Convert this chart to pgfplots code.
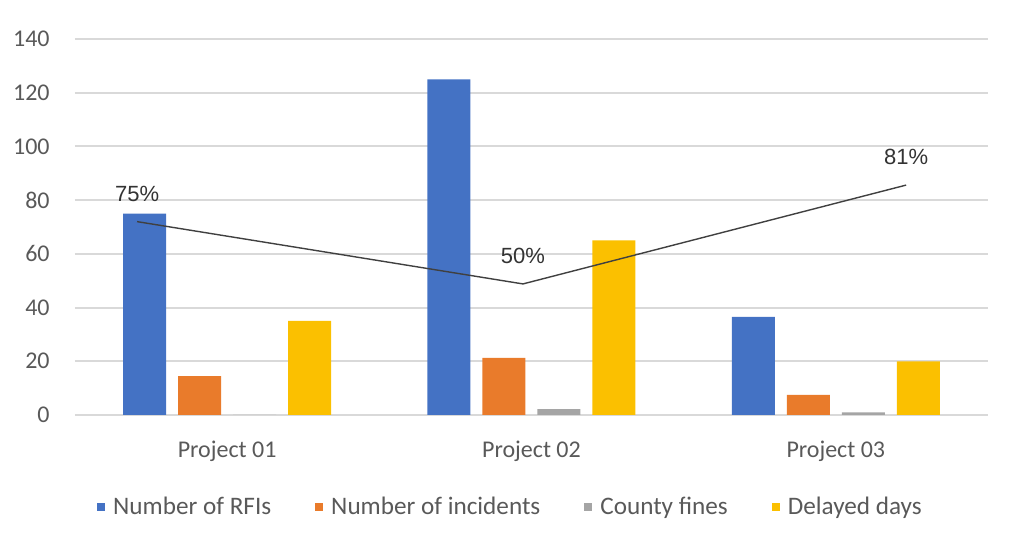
\documentclass[border=0pt]{standalone}
\usepackage{pgfplots}
\pgfplotsset{compat=1.18}
\usepackage{fontspec}
\setmainfont{Carlito}
\newfontfamily\arialf{Liberation Sans}
\definecolor{cBlue}{HTML}{4472C4}
\definecolor{cOrange}{HTML}{E97B2B}
\definecolor{cGray}{HTML}{A5A5A5}
\definecolor{cYellow}{HTML}{FBC000}
\definecolor{cText}{HTML}{595959}
\definecolor{cGrid}{HTML}{D9D9D9}
\definecolor{cLine}{HTML}{404040}
\begin{document}
\begin{tikzpicture}
\useasboundingbox (0,0) rectangle (512pt,275pt);
\begin{axis}[
  at={(37.5pt,67.5pt)}, anchor=south west,
  scale only axis, width=456.5pt, height=188pt,
  xmin=-0.5, xmax=2.5, ymin=0, ymax=140,
  ytick={0,20,...,140},
  xtick={0,1,2}, xticklabels={Project 01,Project 02,Project 03},
  ybar=6pt, bar width=21.5pt,
  axis line style={draw=none},
  major tick length=0pt,
  ymajorgrids, grid style={cGrid, line width=1pt},
  /pgf/number format/assume math mode=true,
  tick label style={font=\fontsize{12}{14}\selectfont, text=cText},
  yticklabel style={anchor=east, inner sep=0pt, xshift=-12.5pt},
  xticklabel style={anchor=base, inner sep=0pt, yshift=-21.5pt},
  legend columns=4,
  legend style={at={(0.4775,-0.2447)}, anchor=center, draw=none, fill=none,
    font=\fontsize{12.6}{14}\selectfont, text=cText,
    /tikz/every odd column/.append style={column sep=2.5pt},
    /tikz/every even column/.append style={column sep=20.5pt},
    nodes={inner sep=1.5pt}},
  legend image code/.code={\fill (0pt,-2pt) rectangle (4pt,2pt);},
  clip=false,
]
\addplot[draw=none, fill=cBlue] coordinates {(0,75) (1,125) (2,36.5)};
\addlegendentry{Number of RFIs}
\addplot[draw=none, fill=cOrange] coordinates {(0,14.5) (1,21.3) (2,7.5)};
\addlegendentry{Number of incidents}
\addplot[draw=none, fill=cGray] coordinates {(0,0) (1,2.2) (2,1)};
\addlegendentry{County fines}
\addplot[draw=none, fill=cYellow] coordinates {(0,35) (1,65) (2,20)};
\addlegendentry{Delayed days}
\addplot[sharp plot, forget plot, color=cLine, line width=0.7pt,
  nodes near coords, point meta=explicit symbolic,
  every node near coord/.style={anchor=center, yshift=14pt, font=\arialf\fontsize{11}{13}\selectfont, text=black!80}]
  coordinates {(-0.296,72) [75\%] (0.972,48.8) [50\%] (2.231,85.6) [81\%]};
\end{axis}
\end{tikzpicture}
\end{document}
